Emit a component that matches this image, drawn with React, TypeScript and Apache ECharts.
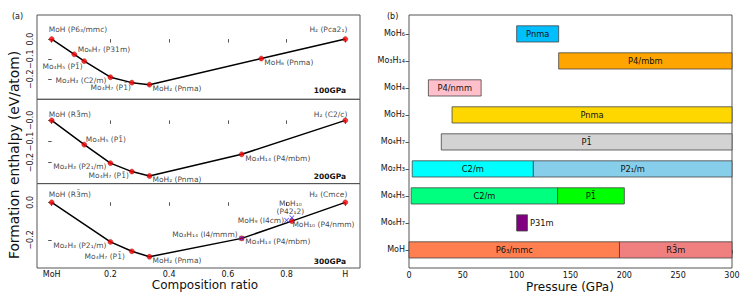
import React, { useEffect, useRef } from 'react';
import * as echarts from 'echarts';

// ---------- Panel (a): formation enthalpy vs composition ----------
const compTicks = [0, 0.2, 0.4, 0.6, 0.8, 1];

const p100Comp = [0, 0.077, 0.111, 0.2, 0.273, 0.333, 0.714, 1];
const p100Enth = [0, -0.076, -0.11, -0.19, -0.217, -0.227, -0.097, 0];
const p100Names = ['MoH (P6₃/mmc)', 'Mo₆H₇ (P31m)', 'Mo₄H₅ (P1̄)', 'Mo₂H₃ (C2/m)', 'Mo₄H₇ (P1̄)', 'MoH₂ (Pnma)', 'MoH₆ (Pnma)', 'H₂ (Pca2₁)'];

const p200Comp = [0, 0.111, 0.2, 0.273, 0.333, 0.647, 1];
const p200Enth = [0, -0.115, -0.203, -0.243, -0.264, -0.161, 0];
const p200Names = ['MoH (R3̄m)', 'Mo₄H₅ (P1̄)', 'Mo₂H₃ (P2₁/m)', 'Mo₄H₇ (P1̄)', 'MoH₂ (Pnma)', 'Mo₃H₁₄ (P4/mbm)', 'H₂ (C2/c)'];

const p300Comp = [0, 0.2, 0.273, 0.333, 0.647, 0.818, 1];
const p300Enth = [0, -0.211, -0.261, -0.29, -0.192, -0.1, 0];
const p300Names = ['MoH (R3̄m)', 'Mo₂H₃ (P2₁/m)', 'Mo₄H₇ (P1̄)', 'MoH₂ (Pnma)', 'Mo₃H₁₄ (P4/mbm)', 'MoH₁₀ (P4/nmm)', 'H₂ (Cmce)'];

const p300MetaComp = [0.647, 0.8, 0.818];
const p300MetaEnth = [-0.192, -0.095, -0.082];
const p300MetaNames = ['Mo₃H₁₄ (I4/mmm)', 'MoH₉ (I4cm)', 'MoH₁₀\n(P42₁2)'];

const pressureTags = ['100GPa', '200GPa', '300GPa'];
const yTicks100 = [0, -0.1, -0.2];
const yTickLabels100 = ['0.0', '−0.1', '−0.2'];
const yTicks200 = [0, -0.1, -0.2];
const yTickLabels200 = ['−0.0', '−0.1', '−0.2'];
const yTicks300 = [0, -0.2];
const yTickLabels300 = ['0.0', '−0.2'];

// label placement (align, dx, dy) — styling only
const p100Place: [string, number, number][] = [['left', -3, -10], ['left', 3.5, -4.5], ['right', -1.5, 5.7], ['right', -4, 3], ['right', -1, 4.5], ['left', 3, 4], ['left', 3, 4], ['right', 2, -10]];
const p200Place: [string, number, number][] = [['left', -3, -5.5], ['left', 1.5, -4.7], ['right', -4, 3.4], ['right', -3, 4], ['left', 3, 3.3], ['left', 3.5, 4], ['right', 2, -5.5]];
const p300Place: [string, number, number][] = [['left', -3, -8], ['right', -4, 3.3], ['right', -7, 4.7], ['left', 3, 3.3], ['left', 3.5, 3.4], ['left', 0.5, 3.5], ['right', 2, -8]];
const p300MetaPlace: [string, number, number][] = [['right', -4, -4], ['right', -2.5, 0], ['center', -1.5, -10.5]];

// ---------- Panel (b): phase stability ranges ----------
const phaseCompounds = ['MoH', 'Mo₆H₇', 'Mo₄H₅', 'Mo₂H₃', 'Mo₄H₇', 'MoH₂', 'MoH₄', 'Mo₃H₁₄', 'MoH₆'];
const phaseRow = [0, 0, 1, 2, 2, 3, 3, 4, 5, 6, 7, 8];
const phaseStart = [0, 195.5, 100, 2, 138, 3, 115.5, 30, 40, 18, 139, 100];
const phaseEnd = [195.5, 300, 110, 138, 200, 115.5, 300, 300, 300, 67, 300, 139];
const phaseName = ['P6₃/mmc', 'R3̄m', 'P31m', 'C2/m', 'P1̄', 'C2/m', 'P2₁/m', 'P1̄', 'Pnma', 'P4/nmm', 'P4/mbm', 'Pnma'];
const phaseColor = ['#FF7F50', '#F08080', '#800080', '#00FF7F', '#00FF00', '#00FFFF', '#87CEEB', '#D3D3D3', '#FFD700', '#FFC0CB', '#FFA500', '#00BFFF'];

const FONT = '"DejaVu Sans", sans-serif';
const FRAME = '#555';
const TXT = '#111';
const CROSS = 'path://M0,1L1,0L5,4L9,0L10,1L6,5L10,9L9,10L5,6L1,10L0,9L4,5Z';

export default function App() {
  const ref = useRef<HTMLDivElement>(null);

  useEffect(() => {
    document.body.style.margin = '0';
    const chart = echarts.init(ref.current!, null, { renderer: 'svg' });

    const leftGrids = [
      { left: 37, top: 15, width: 323, height: 84.3 },
      { left: 37, top: 99.3, width: 323, height: 84.3 },
      { left: 37, top: 183.6, width: 323, height: 84.4 },
    ];
    const yRanges = [
      { min: -0.3, max: 0.12, ticks: yTicks100, labels: yTickLabels100 },
      { min: -0.3, max: 0.1, ticks: yTicks200, labels: yTickLabels200 },
      { min: -0.35, max: 0.1, ticks: yTicks300, labels: yTickLabels300 },
    ];

    const grids: any[] = leftGrids.map((g) => ({ ...g, show: true, borderColor: FRAME, borderWidth: 1, containLabel: false }));
    grids.push({ left: 409, top: 15, width: 323, height: 253, show: true, borderColor: FRAME, borderWidth: 1, containLabel: false });

    const xAxes: any[] = leftGrids.map((_, i) => ({
      type: 'value', gridIndex: i, min: -0.05, max: 1.05,
      axisLine: { show: false },
      splitLine: { show: false },
      axisTick: { show: true, customValues: compTicks, length: 3.5, lineStyle: { color: FRAME } },
      axisLabel: {
        show: i === 2, customValues: compTicks, fontSize: 8, fontFamily: FONT, color: TXT, margin: 2.5,
        formatter: (v: number) => (v === 0 ? 'MoH' : v === 1 ? 'H' : v.toFixed(1)),
      },
    }));
    xAxes.push({
      type: 'value', gridIndex: 3, min: 0, max: 300, interval: 50,
      axisLine: { show: false }, splitLine: { show: false },
      axisTick: { show: true, length: 3.5, lineStyle: { color: FRAME } },
      axisLabel: { fontSize: 8, fontFamily: FONT, color: TXT, margin: 3 },
    });

    const yAxes: any[] = yRanges.map((r, i) => ({
      type: 'value', gridIndex: i, min: r.min, max: r.max,
      axisLine: { show: false }, splitLine: { show: false },
      axisTick: { show: true, customValues: r.ticks, length: 3.5, lineStyle: { color: FRAME } },
      axisLabel: { show: false },
    }));
    yAxes.push({
      type: 'value', gridIndex: 3, min: -0.67, max: 8.7,
      axisLine: { show: false }, splitLine: { show: false },
      axisTick: { show: true, customValues: phaseCompounds.map((_, i) => i), length: 3.5, lineStyle: { color: FRAME } },
      axisLabel: {
        customValues: phaseCompounds.map((_, i) => i), fontSize: 8, fontFamily: FONT, color: TXT, margin: 4,
        formatter: (v: number) => phaseCompounds[Math.round(v)] ?? '',
      },
    });

    const stable = [
      { c: p100Comp, e: p100Enth, n: p100Names, p: p100Place },
      { c: p200Comp, e: p200Enth, n: p200Names, p: p200Place },
      { c: p300Comp, e: p300Enth, n: p300Names, p: p300Place },
    ];

    const mkLabel = (text: string, place: [string, number, number]) => ({
      show: true, formatter: text, position: 'inside', align: place[0], verticalAlign: 'middle',
      offset: [place[1], place[2]], fontSize: 7.5, fontFamily: FONT, color: TXT, lineHeight: 8,
    });

    const series: any[] = [];
    stable.forEach((s, i) => {
      series.push({
        type: 'line', xAxisIndex: i, yAxisIndex: i, data: s.c.map((c, k) => [c, s.e[k]]),
        showSymbol: false, lineStyle: { color: '#000', width: 1.5 }, z: 2, silent: true,
      });
      series.push({
        type: 'scatter', xAxisIndex: i, yAxisIndex: i, symbolSize: 5, z: 3,
        itemStyle: { color: '#ff0000', borderColor: '#8b0000', borderWidth: 0.5 },
        data: s.c.map((c, k) => ({ value: [c, s.e[k]], label: mkLabel(s.n[k], s.p[k]) })),
      });
    });
    series.push({
      type: 'scatter', xAxisIndex: 2, yAxisIndex: 2, symbol: CROSS, symbolSize: 5, z: 4,
      itemStyle: { color: '#1010ff' },
      data: p300MetaComp.map((c, k) => ({ value: [c, p300MetaEnth[k]], label: mkLabel(p300MetaNames[k], p300MetaPlace[k]) })),
    });

    series.push({
      type: 'custom', xAxisIndex: 3, yAxisIndex: 3,
      encode: { x: [1, 2], y: 0 },
      data: phaseRow.map((r, i) => [r, phaseStart[i], phaseEnd[i]]),
      renderItem: (params: any, api: any) => {
        const idx = params.dataIndex;
        const row = api.value(0);
        const a = api.coord([api.value(1), row]);
        const b = api.coord([api.value(2), row]);
        const h = api.size([0, 0.6])[1];
        const outside = b[0] - a[0] < 20;
        return {
          type: 'group',
          children: [
            { type: 'rect', shape: { x: a[0], y: a[1] - h / 2, width: b[0] - a[0], height: h }, style: { fill: phaseColor[idx], stroke: '#444', lineWidth: 0.8 } },
            {
              type: 'text', x: outside ? b[0] + 2.5 : (a[0] + b[0]) / 2, y: a[1],
              style: { text: phaseName[idx], fill: TXT, fontSize: 8.3, fontFamily: FONT, align: outside ? 'left' : 'center', verticalAlign: 'middle' },
            },
          ],
        };
      },
    });

    const graphic: any[] = [
      { type: 'text', left: 12, top: 12, style: { text: '(a)', fontSize: 8, fontFamily: FONT, fill: TXT } },
      { type: 'text', left: 387, top: 12, style: { text: '(b)', fontSize: 8, fontFamily: FONT, fill: TXT } },
      { type: 'text', x: 205, y: 285, style: { text: 'Composition ratio', fontSize: 12, fontFamily: FONT, fill: TXT, align: 'center', verticalAlign: 'middle' } },
      { type: 'text', x: 570, y: 287, style: { text: 'Pressure (GPa)', fontSize: 12, fontFamily: FONT, fill: TXT, align: 'center', verticalAlign: 'middle' } },
      { type: 'text', x: 14, y: 155, rotation: Math.PI / 2, style: { text: 'Formation enthalpy (eV/atom)', fontSize: 13.8, fontFamily: FONT, fill: TXT, align: 'center', verticalAlign: 'middle' } },
    ];
    const tagY = [90, 176, 261];
    pressureTags.forEach((t, i) => {
      graphic.push({ type: 'text', x: 346, y: tagY[i], style: { text: t, fontSize: 7.5, fontWeight: 'bold', fontFamily: FONT, fill: TXT, align: 'right', verticalAlign: 'middle' } });
    });

    // Rotated y tick labels of panel (a); positioned below through the axes' own scales.
    yRanges.forEach((r, i) => {
      r.ticks.forEach((_v, k) => {
        graphic.push({
          type: 'text', id: 'yt' + i + '_' + k, x: 0, y: 0, rotation: Math.PI / 2,
          style: { text: r.labels[k], fontSize: 8, fontFamily: FONT, fill: TXT, align: 'center', verticalAlign: 'bottom' },
        });
      });
    });

    chart.setOption({
      animation: false,
      backgroundColor: '#fff',
      grid: grids,
      xAxis: xAxes,
      yAxis: yAxes,
      series,
      graphic,
    });

    const upd: any[] = [];
    yRanges.forEach((r, i) => {
      r.ticks.forEach((v, k) => {
        const px = chart.convertToPixel({ xAxisIndex: i, yAxisIndex: i } as any, [-0.05, v]) as number[];
        upd.push({ id: 'yt' + i + '_' + k, x: px[0] - 2.5, y: px[1] });
      });
    });
    chart.setOption({ graphic: upd });

    return () => chart.dispose();
  }, []);

  return <div ref={ref} style={{ width: 747, height: 299 }} />;
}
